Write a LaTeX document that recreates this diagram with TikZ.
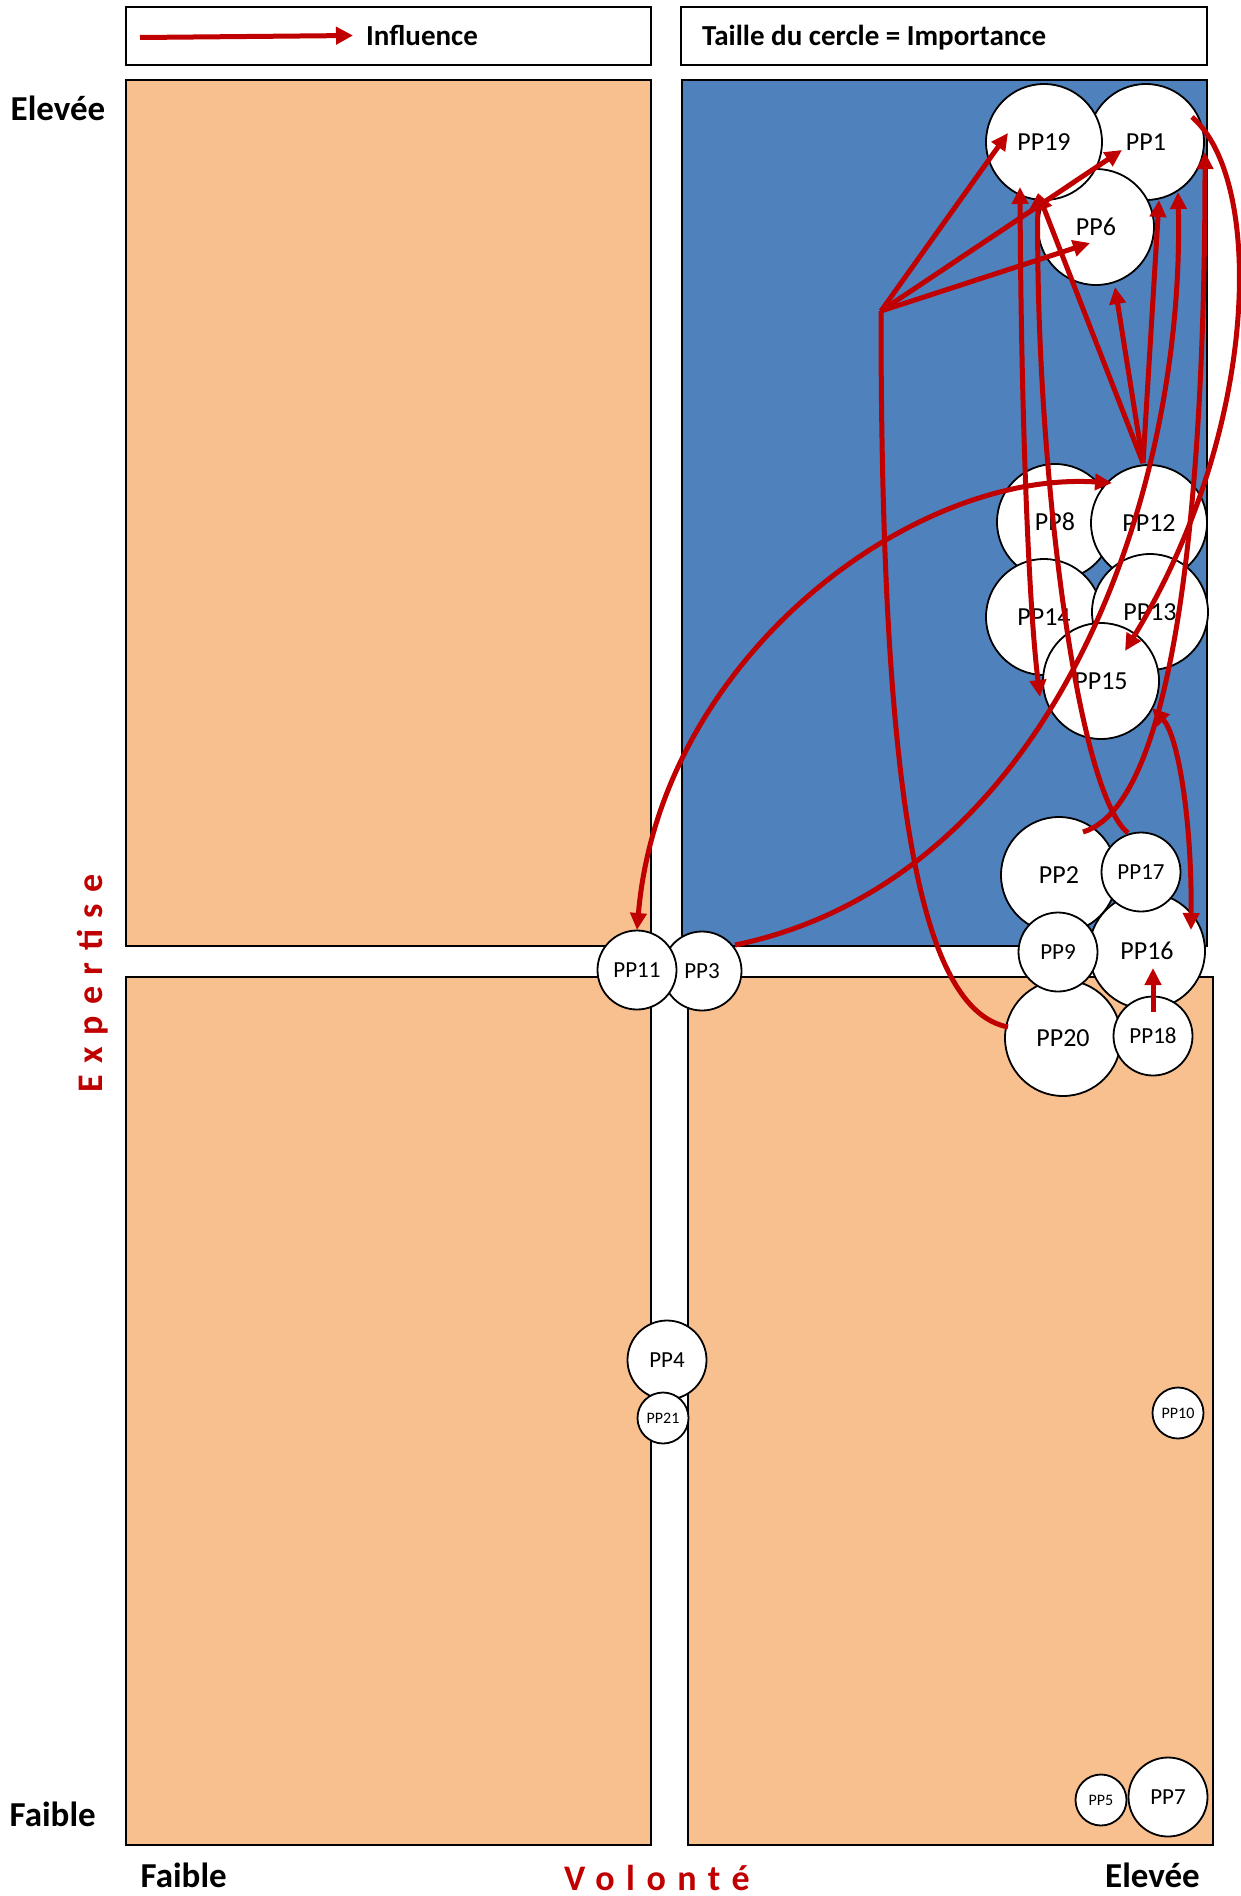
\documentclass[tikz,border=0pt]{standalone}
\usepackage{fontspec}
\setmainfont{Carlito}
\usetikzlibrary{arrows.meta,calc}
\definecolor{qblue}{HTML}{4F81BD}
\definecolor{qorange}{HTML}{F8BF8F}
\definecolor{qred}{HTML}{C00000}
\begin{document}
\begin{tikzpicture}[x=1pt,y=-1pt,
  quad/.style={draw=black, line width=1.5pt},
  pp/.style={circle, draw=black, line width=1.8pt, fill=white, inner sep=0pt},
  big/.style={pp, minimum size=116pt, font=\fontsize{26}{30}\selectfont},
  mid/.style={pp, minimum size=79pt, font=\fontsize{23}{27}\selectfont},
  small/.style={pp, minimum size=51pt, font=\fontsize{16}{19}\selectfont},
  axlab/.style={font=\fontsize{35}{42}\selectfont\bfseries, inner sep=0pt},
  redlab/.style={font=\fontsize{36}{42}\selectfont\bfseries\addfontfeature{LetterSpace=32}, text=qred, inner sep=0pt},
  leglab/.style={font=\fontsize{29}{34}\selectfont\bfseries, inner sep=0pt},
  tipA/.tip={Triangle[length=17pt,width=16pt]},
  infl/.style={draw=qred, line width=5pt, -tipA},
  infl2/.style={draw=qred, line width=5pt, tipA-tipA},
  ]
\useasboundingbox (0,0) rectangle (1240,1896);

% quadrants
\draw[quad, fill=qorange] (126,80) rectangle (651,946);
\draw[quad, fill=qblue] (682,80) rectangle (1207,946);
\draw[quad, fill=qorange] (126,977) rectangle (651,1845);
\draw[quad, fill=qorange] (688,977) rectangle (1213,1845);

% legend
\draw[quad, fill=white] (126,7) rectangle (651,65);
\draw[quad, fill=white] (681,7) rectangle (1207,65);
\coordinate (legA) at (140,37.5);
\node[leglab, anchor=base west] (legtxt) at (366,45.5) {Influence};
\draw[draw=qred, line width=5pt, -{Triangle[length=17pt,width=17pt]}] (legA) -- ($(legtxt.west)+(-13,0)$ |- legA);
\node[leglab, anchor=base west] (legsize) at (702,45.5) {Taille du cercle = Importance};

% axis labels
\node[axlab, anchor=base west] (ytop) at (10.5,120) {Elevée};
\node[axlab, anchor=base west] (ybot) at (9.5,1826) {Faible};
\node[axlab, anchor=base west] (xleft) at (140.5,1887) {Faible};
\node[axlab, anchor=base west] (xright) at (1105,1887) {Elevée};
\node[redlab, anchor=base west, text depth=0pt] (xlab) at (564,1890) {Volonté};
\node[redlab, anchor=base west, rotate=90] (ylab) at (102.5,1093) {Expertise};

% circles, group 1
\node[big] (pp1) at (1146,142) {PP1};
\node[big] (pp6) at (1096,227) {PP6};
\node[big] (pp19) at (1044,142) {PP19};
% group 2
\node[big] (pp8) at (1055,522) {PP8};
\node[big] (pp12) at (1149,523) {PP12};
\node[big] (pp14) at (1044,617) {PP14};
\node[big] (pp13) at (1150,612) {PP13};
\node[big] (pp15) at (1101,681) {PP15};
% group 3
\node[big] (pp2) at (1059,875) {PP2};
\node[big] (pp16) at (1147,951) {PP16};
\node[mid] (pp17) at (1141,872) {PP17};
\node[big] (pp20) at (1063,1038) {PP20};
\node[mid] (pp9) at (1058,952) {PP9};
\node[mid] (pp18) at (1153,1036) {PP18};
% group 4
\node[mid] (pp3) at (702,971) {PP3};
\node[mid] (pp11) at (637,970) {PP11};
\node[mid] (pp4) at (667,1360) {PP4};
\node[small] (pp21) at (663,1418) {PP21};
\node[small] (pp10) at (1178,1413) {PP10};
\node[small] (pp5) at (1101,1800) {PP5};
\node[mid] (pp7) at (1168,1797) {PP7};

% influence arrows
\coordinate (hub) at (881,311);
\draw[draw=qred, line width=5pt] ($(pp20.center)+(-55,-11)$) .. controls (920,1010) and (881,800) .. (hub);
\draw[infl] (hub) -- ($(pp19.center)+(-36,-9)$);
\draw[infl] (hub) -- ($(pp1.center)+(-24,8)$);
\draw[infl] (hub) -- ($(pp6.center)+(-6,16)$);

\draw[infl] ($(pp12.center)+(-6,-60)$) -- ($(pp6.center)+(19,60)$);
\draw[infl] ($(pp12.center)+(-6,-60)$) -- ($(pp19.center)+(-6,51)$);
\draw[infl] ($(pp12.center)+(-6,-60)$) -- ($(pp1.center)+(13,58)$);

\draw[infl] ($(pp17.center)+(-13,-39)$) .. controls (1075,790) and (1035,450) .. ($(pp19.center)+(-6,51)$);
\draw[infl2] ($(pp19.center)+(-24,45)$) .. controls (1021,400) and (1028,600) .. ($(pp15.center)+(-61,16)$);
\draw[infl] ($(pp2.center)+(24,-43)$) .. controls (1190,800) and (1205,400) .. ($(pp1.center)+(59,10)$);
\draw[infl] ($(pp3.center)+(33,-26)$) .. controls (1050,880) and (1185,500) .. ($(pp1.center)+(32,50)$);
\draw[infl] ($(pp1.center)+(46,-25)$) .. controls (1265,180) and (1260,430) .. ($(pp15.center)+(24,-30)$);
\draw[infl2] ($(pp11.center)+(0,-40)$) .. controls (660,660) and (910,470) .. ($(pp12.center)+(-37,-40)$);
\draw[infl2] ($(pp15.center)+(51,27)$) .. controls (1178,735) and (1192,820) .. ($(pp16.center)+(44,-21)$);
\draw[infl] ($(pp18.center)+(0,-24)$) -- ($(pp16.center)+(6,17)$);
\end{tikzpicture}
\end{document}
